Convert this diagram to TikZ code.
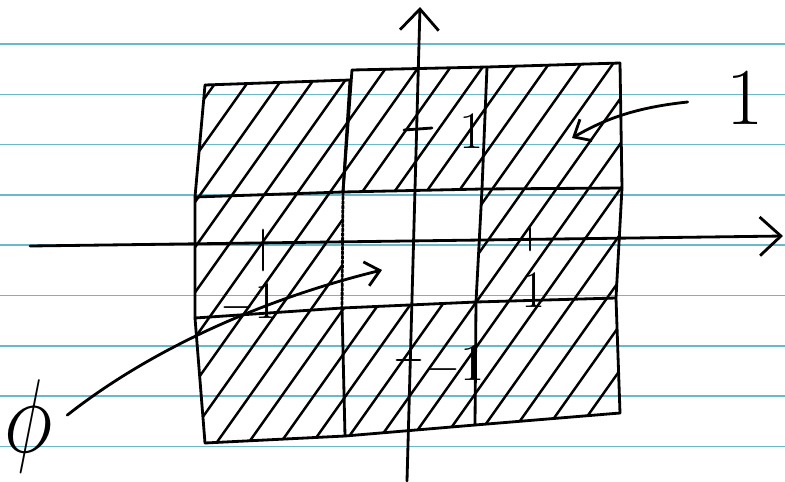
\documentclass[tikz,border=0pt]{standalone}
\usepackage{xcolor}
\usepackage{graphicx}
\usepackage{tikz}
\usetikzlibrary{arrows.meta, calc}

\definecolor{ruleline}{RGB}{105,185,200}

\begin{document}
\begin{tikzpicture}[
    x=0.02cm, y=-0.02cm,
    sketch/.style={line width=1.6pt, line cap=round, line join=round},
    hatch/.style={line width=1.4pt, line cap=round},
    paperline/.style={ruleline, line width=0.9pt},
    axisarrow/.style={sketch, -{Straight Barb[length=12pt, width=22pt]}},
    pointer/.style={sketch, -{Straight Barb[length=8pt, width=14pt]}},
    ticklabel/.style={font=\fontsize{30}{32}\selectfont, inner sep=0pt},
    biglabel/.style={font=\fontsize{46}{50}\selectfont, inner sep=0pt}
]

\useasboundingbox (0,0) rectangle (785,481);

% ruled paper
\foreach \yy in {44,94.3,...,447} \draw[paperline] (0,\yy) -- (785,\yy);

% grid corners
\coordinate (a0) at (205,85);  \coordinate (a1) at (350,80);
\coordinate (g01) at (352,70); \coordinate (g02) at (487,67); \coordinate (g03) at (620,63);
\coordinate (g10) at (195,197); \coordinate (g11) at (343,192); \coordinate (g12) at (482,189); \coordinate (g13) at (622,188);
\coordinate (g20) at (195,318); \coordinate (g21) at (342,308); \coordinate (g22) at (476,302); \coordinate (g23) at (616,298);
\coordinate (g30) at (205,443); \coordinate (g31) at (345,436); \coordinate (g32) at (475,425); \coordinate (g33) at (620,413);

% hatched cells (all but the centre one)
\foreach \p/\q/\r/\s in {a0/a1/g11/g10, g01/g02/g12/g11, g02/g03/g13/g12,
                          g10/g11/g21/g20, g12/g13/g23/g22,
                          g20/g21/g31/g30, g21/g22/g32/g31, g22/g23/g33/g32} {
  \begin{scope}
    \clip (\p) -- (\q) -- (\r) -- (\s) -- cycle;
    \foreach \h in {-240,-208,...,840} \draw[hatch] (\h,500) -- ++(340,-480);
  \end{scope}
}

% cell borders
\draw[sketch] (a0) -- (a1);
\draw[sketch] (g01) -- (g02) -- (g03);
\draw[sketch] (g10) -- (g11) -- (g12) -- (g13);
\draw[sketch] (g20) -- (g21) -- (g22) -- (g23);
\draw[sketch] (g30) -- (g31) -- (g32) -- (g33);
\draw[sketch] (a0) -- (g10) -- (g20) -- (g30);
\draw[sketch] (a1) -- (g11);
\draw[sketch] (g01) -- (g11);
\draw[sketch, densely dotted] (g11) -- (g21);
\draw[sketch] (g21) -- (g31);
\draw[sketch] (g02) -- (g12) -- (g22) -- (g32);
\draw[sketch] (g03) -- (g13) -- (g23) -- (g33);

% axes
\coordinate (ybot) at (407,481); \coordinate (ytop) at (420,7);
\coordinate (xleft) at (30,246); \coordinate (xright) at (783,236);
\draw[axisarrow] (ybot) -- (ytop);
\draw[axisarrow] (xleft) -- (xright);

% ticks
\draw[sketch] (404,130) -- (432,128);
\draw[sketch] (397,360) -- (420,360);
\draw[sketch] (263,230) -- (263,270);
\draw[sketch] (530,228) -- (530,250);
\node[ticklabel] (ty1) at (472,131) {1};
\node[ticklabel] (tym) at (456,365) {$-$1};
\node[ticklabel] (tx1) at (534,290) {1};
\node[ticklabel] (txm) at (250,303) {$-$1};

% labels with pointers
\node[biglabel] (one) at (745,98) {1};
\node[inner sep=0pt] (phi) at (29,426) {\scalebox{1.9}[2.4]{\fontsize{24}{26}\selectfont$\phi$}};
\coordinate (onetip) at (572,138);
\coordinate (phitip) at (382,270);
\draw[pointer, shorten <=22pt] (one.west) .. controls (630,108) and (600,122) .. (onetip);
\draw[pointer, shorten <=10pt] (phi.east) .. controls (150,350) and (260,300) .. (phitip);

\end{tikzpicture}
\end{document}
